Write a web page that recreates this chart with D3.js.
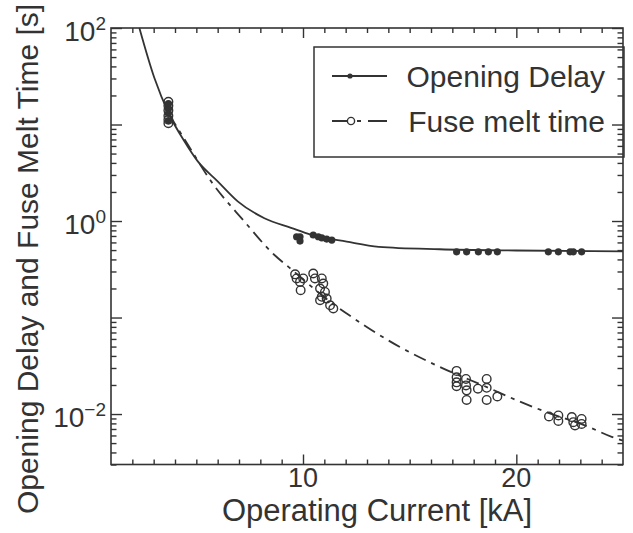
<!DOCTYPE html>
<html>
<head>
<meta charset="utf-8">
<script src="https://cdn.jsdelivr.net/npm/d3@7"></script>
<style>
  body { margin: 0; background: #fff; }
  svg { display: block; }
  text { font-family: "Liberation Sans", Arial, sans-serif; fill: #333; }
</style>
</head>
<body>
<svg id="chart" width="633" height="533"></svg>
<script>
// fitted curves: [current kA, time s]
const openingCurve = [
  [2.33, 100], [3.03, 30.5], [3.73, 12.7], [4.44, 6.7], [5.06, 4.17], [6.0, 2.58],
  [6.94, 1.6], [8.19, 1.07], [9.44, 0.85], [10.38, 0.72], [12.05, 0.61], [13.55, 0.54],
  [16.4, 0.51], [20, 0.495], [25, 0.485]
];
const fuseCurve = [
  [3.73, 12.7], [4.6, 6.2], [5.69, 2.58], [7.25, 0.99], [8.65, 0.447], [9.39, 0.325],
  [10.5, 0.2], [11.5, 0.134], [12.05, 0.11], [14.54, 0.0495], [16.42, 0.0307],
  [18.5, 0.0195], [20.4, 0.0128], [21.5, 0.0103], [23.3, 0.0075], [24.47, 0.0058], [25, 0.0053]
];

// measured points
const openingPoints = [
  [3.69, 16.5], [3.69, 14.5], [3.69, 13], [3.69, 11],
  [9.7, 0.687], [9.86, 0.687], [9.86, 0.62], [10.48, 0.716], [10.72, 0.687],
  [10.88, 0.67], [11.11, 0.65], [11.35, 0.635],
  [17.2, 0.48], [17.67, 0.48], [18.22, 0.48], [18.69, 0.48], [19.11, 0.48],
  [21.5, 0.48], [21.97, 0.48], [22.52, 0.48], [22.67, 0.48], [23.06, 0.48]
];
const fusePoints = [
  [3.69, 17.2], [3.69, 15.6], [3.69, 14], [3.69, 12.3], [3.69, 11.2], [3.69, 10.3],
  [9.63, 0.28], [9.7, 0.254], [9.86, 0.234], [10.01, 0.254], [9.89, 0.192],
  [10.48, 0.286], [10.56, 0.254], [10.88, 0.254], [10.95, 0.225], [10.8, 0.2],
  [11.03, 0.184], [10.88, 0.164], [10.8, 0.151], [11.11, 0.157], [11.27, 0.134], [11.42, 0.124],
  [17.2, 0.028], [17.2, 0.024], [17.2, 0.0213], [17.2, 0.0194], [17.64, 0.0231],
  [17.64, 0.0198], [17.67, 0.0176], [17.67, 0.014], [18.2, 0.0183], [18.61, 0.0231],
  [18.61, 0.0187], [18.61, 0.014], [19.11, 0.0152],
  [21.53, 0.00944], [21.97, 0.00967], [21.97, 0.00848], [22.6, 0.00929],
  [22.67, 0.00824], [22.75, 0.00762], [23.06, 0.00889], [23.06, 0.00789]
];

const xTickLabels = [10, 20];
const yTickLabels = [2, 0, -2];   // exponents of 10
const legendLabels = ["Opening Delay", "Fuse melt time"];

const ink = "#333";
const svg = d3.select("#chart");

const x = d3.scaleLinear().domain([1, 25]).range([111, 623]);
const y = d3.scaleLog().domain([0.003, 100]).range([464.5, 28]);

const line = d3.line()
  .x(d => x(d[0]))
  .y(d => y(d[1]))
  .curve(d3.curveMonotoneX);

const plot = svg.append("g");

plot.append("path")
  .datum(openingCurve)
  .attr("d", line)
  .attr("fill", "none")
  .attr("stroke", ink)
  .attr("stroke-width", 1.8);

plot.append("path")
  .datum(fuseCurve)
  .attr("d", line)
  .attr("fill", "none")
  .attr("stroke", ink)
  .attr("stroke-width", 1.8)
  .attr("stroke-dasharray", "13,6,4,6");

plot.selectAll(".open-pt")
  .data(fusePoints)
  .enter()
  .append("circle")
  .attr("class", "open-pt")
  .attr("cx", d => x(d[0]))
  .attr("cy", d => y(d[1]))
  .attr("r", 4.3)
  .attr("fill", "none")
  .attr("stroke", ink)
  .attr("stroke-width", 1.4);

plot.selectAll(".dot-pt")
  .data(openingPoints)
  .enter()
  .append("circle")
  .attr("class", "dot-pt")
  .attr("cx", d => x(d[0]))
  .attr("cy", d => y(d[1]))
  .attr("r", 3.6)
  .attr("fill", ink);

// legend
const legend = svg.append("g");
legend.append("rect")
  .attr("x", 314).attr("y", 47)
  .attr("width", 310).attr("height", 110)
  .attr("fill", "#fff")
  .attr("stroke", ink)
  .attr("stroke-width", 1.5);

legend.append("line")
  .attr("x1", 332).attr("x2", 387).attr("y1", 76).attr("y2", 76)
  .attr("stroke", ink).attr("stroke-width", 1.8);
legend.append("circle")
  .attr("cx", 350).attr("cy", 76).attr("r", 2.6).attr("fill", ink);

legend.append("line")
  .attr("x1", 332).attr("x2", 387).attr("y1", 121).attr("y2", 121)
  .attr("stroke", ink).attr("stroke-width", 1.8)
  .attr("stroke-dasharray", "15,10,4,7,19");
legend.append("circle")
  .attr("cx", 351).attr("cy", 121).attr("r", 3.6)
  .attr("fill", "#fff").attr("stroke", ink).attr("stroke-width", 1.4);

legend.selectAll(".leg-text")
  .data(legendLabels)
  .enter()
  .append("text")
  .attr("class", "leg-text")
  .attr("x", 605)
  .attr("y", (d, i) => 87 + i * 45)
  .attr("text-anchor", "end")
  .style("font-size", "30px")
  .text(d => d);

// axes: ticks inward on all four sides
const majorY = d3.range(-2, 3).map(e => Math.pow(10, e));
const minorY = y.ticks().filter(v => !majorY.some(m => Math.abs(m - v) / v < 1e-9));
const majorX = [10, 20];
const minorX = d3.range(2, 25).filter(v => majorX.indexOf(v) < 0);

function addAxis(axisFn, scale, values, size, transform) {
  const g = svg.append("g")
    .attr("transform", transform)
    .call(axisFn(scale).tickValues(values).tickSize(-size).tickFormat(""));
  g.select(".domain").remove();
  g.selectAll(".tick line").attr("stroke", ink).attr("stroke-width", 1.4);
  return g;
}

addAxis(d3.axisLeft, y, majorY, 11, "translate(111,0)");
addAxis(d3.axisLeft, y, minorY, 5.5, "translate(111,0)");
addAxis(d3.axisRight, y, majorY, 11, "translate(623,0)");
addAxis(d3.axisRight, y, minorY, 5.5, "translate(623,0)");
addAxis(d3.axisBottom, x, majorX, 10, "translate(0,464.5)");
addAxis(d3.axisBottom, x, minorX, 5, "translate(0,464.5)");
addAxis(d3.axisTop, x, majorX, 10, "translate(0,28)");
addAxis(d3.axisTop, x, minorX, 5, "translate(0,28)");

svg.append("rect")
  .attr("x", 111).attr("y", 28)
  .attr("width", 512).attr("height", 436.5)
  .attr("fill", "none")
  .attr("stroke", ink)
  .attr("stroke-width", 1.6);

// tick labels
svg.selectAll(".x-lab")
  .data(xTickLabels)
  .enter()
  .append("text")
  .attr("class", "x-lab")
  .attr("x", d => x(d))
  .attr("y", 487)
  .attr("text-anchor", "middle")
  .style("font-size", "27px")
  .text(d => d);

const yLab = svg.selectAll(".y-lab")
  .data(yTickLabels)
  .enter()
  .append("text")
  .attr("class", "y-lab")
  .attr("x", 106)
  .attr("y", d => y(Math.pow(10, d)) + 13)
  .attr("text-anchor", "end")
  .style("font-size", "28px");
yLab.append("tspan").text("10");
yLab.append("tspan")
  .attr("dy", -11)
  .style("font-size", "19px")
  .text(d => d < 0 ? "\u2212" + (-d) : d);

// axis titles
svg.append("text")
  .attr("x", 377)
  .attr("y", 521)
  .attr("text-anchor", "middle")
  .style("font-size", "31px")
  .text("Operating Current [kA]");

svg.append("text")
  .attr("transform", "translate(38,259) rotate(-90)")
  .attr("text-anchor", "middle")
  .style("font-size", "30px")
  .text("Opening Delay and Fuse Melt Time [s]");
</script>
</body>
</html>
